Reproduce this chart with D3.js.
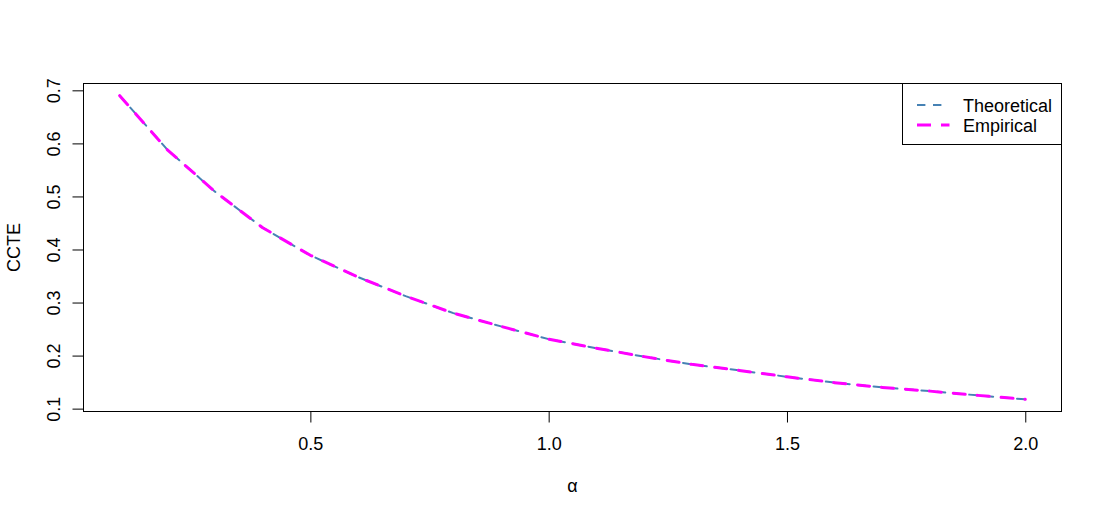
<!DOCTYPE html>
<meta charset="utf-8">
<style>
body { margin: 0; background: #fff; }
text { font-family: "Liberation Sans", Arial, sans-serif; fill: #000; }
.curve { fill: none; stroke-linecap: round; stroke-linejoin: round; }
</style>
<body>
<script src="https://d3js.org/d3.v7.min.js"></script>
<script>

// values
var alpha = [0.1, 0.2, 0.3, 0.4, 0.5, 0.6, 0.7, 0.8, 0.9, 1.0,
             1.1, 1.2, 1.3, 1.4, 1.5, 1.6, 1.7, 1.8, 1.9, 2.0];
var theoretical = [0.690, 0.588, 0.509, 0.441, 0.389, 0.348, 0.312, 0.280, 0.255, 0.231,
                   0.214, 0.198, 0.1835, 0.172, 0.160, 0.149, 0.140, 0.133, 0.125, 0.1175];
var empirical = [0.690, 0.588, 0.509, 0.441, 0.389, 0.348, 0.312, 0.280, 0.255, 0.231,
                 0.214, 0.198, 0.1835, 0.172, 0.160, 0.149, 0.140, 0.133, 0.125, 0.1175];
var xTicks = [0.5, 1.0, 1.5, 2.0];
var yTicks = [0.1, 0.2, 0.3, 0.4, 0.5, 0.6, 0.7];
var seriesNames = ["Theoretical", "Empirical"];
var seriesColors = ["#4682B4", "#FF00FF"];

var W = 1104, H = 517;
var pLeft = 83.5, pRight = 1061.5, pTop = 83.5, pBottom = 411.5;
var fs = "18px";
var ff = "Liberation Sans, Arial, sans-serif";

var svg = d3.select("body").append("svg")
    .attr("width", W)
    .attr("height", H);

svg.append("rect").attr("width", W).attr("height", H).attr("fill", "#fff");

// R style 4% padding
function padded(ext) {
    var r = ext[1] - ext[0];
    return [ext[0] - 0.04 * r, ext[1] + 0.04 * r];
}

var x = d3.scaleLinear()
    .domain(padded(d3.extent(alpha)))
    .range([pLeft, pRight]);
var y = d3.scaleLinear()
    .domain(padded(d3.extent(theoretical.concat(empirical))))
    .range([pBottom, pTop]);

// axes
var gX = svg.append("g")
    .attr("transform", "translate(0," + pBottom + ")")
    .call(d3.axisBottom(x).tickValues(xTicks).tickFormat(d3.format(".1f"))
        .tickSize(11).tickSizeOuter(0));
gX.select(".domain").remove();
gX.selectAll("line").attr("stroke", "#000");
gX.selectAll("text")
    .attr("y", 38.8).attr("dy", null)
    .style("font-size", fs)
    .style("font-family", ff);

var gY = svg.append("g")
    .attr("transform", "translate(" + pLeft + ",0)")
    .call(d3.axisLeft(y).tickValues(yTicks).tickFormat(d3.format(".1f"))
        .tickSize(11).tickSizeOuter(0));
gY.select(".domain").remove();
gY.selectAll("line").attr("stroke", "#000");
gY.selectAll("text")
    .attr("x", null).attr("dy", null)
    .attr("text-anchor", "middle")
    .attr("transform", "translate(-23.5,0) rotate(-90)")
    .style("font-size", fs)
    .style("font-family", ff);

// plot box
svg.append("rect")
    .attr("x", pLeft).attr("y", pTop)
    .attr("width", pRight - pLeft).attr("height", pBottom - pTop)
    .attr("fill", "none").attr("stroke", "#000").attr("stroke-width", 1);

// axis titles
svg.append("text")
    .attr("x", (pLeft + pRight) / 2).attr("y", 491.5)
    .attr("text-anchor", "middle")
    .style("font-size", fs)
    .text("α");

svg.append("text")
    .attr("transform", "translate(19.5," + (pTop + pBottom) / 2 + ") rotate(-90)")
    .attr("text-anchor", "middle")
    .style("font-size", fs)
    .text("CCTE");

// curves
var line = d3.line()
    .x(function(d) { return x(d[0]); })
    .y(function(d) { return y(d[1]); });

svg.append("path")
    .datum(d3.zip(alpha, theoretical))
    .attr("class", "curve")
    .attr("stroke", seriesColors[0])
    .attr("stroke-width", 2)
    .attr("stroke-dasharray", "8,8")
    .attr("d", line);

svg.append("path")
    .datum(d3.zip(alpha, empirical))
    .attr("class", "curve")
    .attr("stroke", seriesColors[1])
    .attr("stroke-width", 3)
    .attr("stroke-dasharray", "12,12")
    .attr("d", line);

// legend
var legend = svg.append("g");
legend.append("rect")
    .attr("x", 902.5).attr("y", pTop)
    .attr("width", pRight - 902.5).attr("height", 61)
    .attr("fill", "#fff").attr("stroke", "#000");

var widths = [2, 3], dashes = ["8.4,7.6", "14,10"], segEnd = [942, 949.5];
seriesNames.forEach(function(name, i) {
    var ly = 105 + i * 20;
    legend.append("line")
        .attr("x1", 917).attr("x2", segEnd[i])
        .attr("y1", ly).attr("y2", ly)
        .attr("stroke", seriesColors[i])
        .attr("stroke-width", widths[i])
        .attr("stroke-dasharray", dashes[i]);
    legend.append("text")
        .attr("x", 963).attr("y", ly + 6.5)
        .style("font-size", fs)
        .text(name);
});

</script>
</body>
